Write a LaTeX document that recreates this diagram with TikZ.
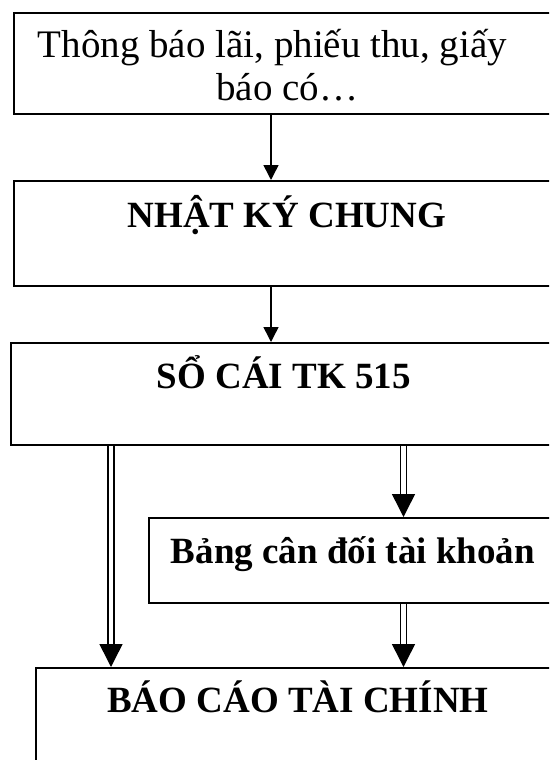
\documentclass[tikz,border=0pt]{standalone}
\usepackage{fontspec}
\setmainfont{Liberation Serif}
\usetikzlibrary{arrows.meta}
\begin{document}
\begin{tikzpicture}[x=1pt,y=-1pt,
		box/.style={draw, line width=1.8pt, inner sep=0pt, anchor=north west, align=center, font=\fontsize{37}{43}\selectfont},
		arr/.style={line width=1.5pt, -{Triangle[width=15pt,length=15pt]}},
		dbl/.style={double, double distance=4.5pt, line width=1.5pt, -{Triangle[width=23pt,length=23pt]}}]
		\useasboundingbox (0,0) rectangle (549,760);
		\clip (0,0) rectangle (549,760);
		
		\node[box, font=\fontsize{39}{43}\selectfont, minimum width=547pt, text height=88pt, text depth=13pt] (tb) at (13,12) {Thông báo lãi, phiếu thu, giấy\hspace*{30pt}\\báo có…};
		\node[box, minimum width=546pt, text height=47pt, text depth=58pt] (nkc) at (13,180) {\bfseries NHẬT KÝ CHUNG};
		\node[box, minimum width=546pt, text height=46pt, text depth=56pt] (sc) at (10,342) {\bfseries SỔ CÁI TK 515};
		\node[box, minimum width=408pt, text height=46pt, text depth=39pt] (bcd) at (148,517) {\bfseries Bảng cân đối tài khoản};
		\node[box, minimum width=524pt, text height=45pt, text depth=88pt] (bc) at (35,667) {\bfseries BÁO CÁO TÀI CHÍNH};
		
		\coordinate (xm) at (271,0);
		\coordinate (xl) at (111,0);
		\coordinate (xr) at (403.5,0);
		
		\foreach \a/\b in {tb/nkc, nkc/sc}{
			\draw[arr] (\a.south -| xm) -- (\b.north -| xm);
		}
		\foreach \a/\b/\x in {sc/bc/xl, sc/bcd/xr, bcd/bc/xr}{
			\draw[dbl] (\a.south -| \x) -- (\b.north -| \x);
		}
	\end{tikzpicture}
\end{document}
